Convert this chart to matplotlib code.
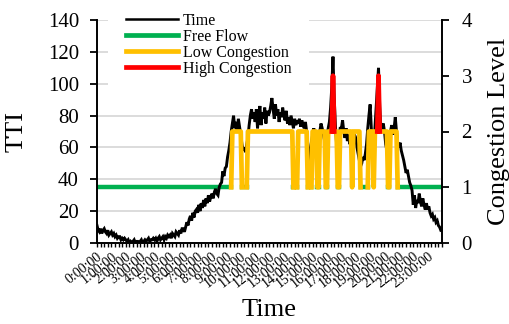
import numpy as np
import matplotlib
matplotlib.use('Agg')
import matplotlib.pyplot as plt
from matplotlib.ticker import FixedLocator, MultipleLocator
from matplotlib.lines import Line2D

plt.rcParams['font.family'] = ['Liberation Serif', 'DejaVu Serif']

hour_labels = ['0:00:00', '1:00:00', '2:00:00', '3:00:00', '4:00:00', '5:00:00',
               '6:00:00', '7:00:00', '8:00:00', '9:00:00', '10:00:00', '11:00:00',
               '12:00:00', '13:00:00', '14:00:00', '15:00:00', '16:00:00', '17:00:00',
               '18:00:00', '19:00:00', '20:00:00', '21:00:00', '22:00:00', '23:00:00']

# TTI every 5 minutes (12 values per hour)
tti = [
    11, 8, 7, 9, 6, 8, 9, 7, 6, 8, 5, 6,
    7, 5, 6, 4, 5, 3, 4, 4, 2, 3, 2, 3,
    2, 1, 2, 0, 1, 0, 1, 2, 0, 1, 1, 0,
    1, 2, 0, 1, 2, 1, 2, 3, 1, 2, 2, 3,
    2, 3, 1, 3, 4, 2, 3, 4, 2, 4, 3, 5,
    4, 5, 3, 6, 5, 4, 7, 6, 5, 8, 6, 9,
    9, 7, 10, 13, 11, 15, 17, 14, 19, 16, 20, 21,
    19, 24, 20, 25, 22, 27, 23, 28, 25, 30, 26, 29,
    31, 28, 32, 34, 31, 30, 35, 37, 38, 45, 42, 47,
    48, 54, 58, 63, 70, 75, 80, 72, 76, 70, 78, 73,
    68, 62, 58, 60, 57, 62, 66, 74, 80, 84, 78, 82,
    76, 84, 72, 80, 86, 74, 82, 78, 85, 75, 83, 80,
    82, 86, 91, 84, 78, 87, 80, 84, 76, 82, 79, 85,
    80, 77, 83, 75, 79, 74, 80, 76, 72, 78, 74, 77,
    75, 78, 73, 77, 74, 72, 76, 70, 62, 50, 55, 63,
    68, 72, 66, 58, 55, 62, 70, 75, 72, 68, 64, 62,
    65, 72, 76, 85, 98, 117, 92, 74, 62, 60, 64, 72,
    72, 77, 70, 66, 72, 64, 68, 62, 66, 58, 62, 68,
    66, 60, 56, 52, 48, 50, 54, 52, 56, 62, 72, 80,
    87, 72, 55, 62, 72, 85, 98, 110, 86, 72, 70, 75,
    70, 62, 58, 57, 64, 70, 74, 68, 72, 79, 70, 63,
    60, 63, 58, 55, 52, 48, 44, 46, 42, 38, 36, 33,
    24, 30, 22, 27, 25, 31, 26, 23, 28, 24, 21, 25,
    21, 23, 19, 17, 18, 15, 16, 13, 14, 11, 10, 8,
]

# congestion level every 5 minutes (1 free flow, 2 low, 3 high)
congestion = [
    1, 1, 1, 1, 1, 1, 1, 1, 1, 1, 1, 1,
    1, 1, 1, 1, 1, 1, 1, 1, 1, 1, 1, 1,
    1, 1, 1, 1, 1, 1, 1, 1, 1, 1, 1, 1,
    1, 1, 1, 1, 1, 1, 1, 1, 1, 1, 1, 1,
    1, 1, 1, 1, 1, 1, 1, 1, 1, 1, 1, 1,
    1, 1, 1, 1, 1, 1, 1, 1, 1, 1, 1, 1,
    1, 1, 1, 1, 1, 1, 1, 1, 1, 1, 1, 1,
    1, 1, 1, 1, 1, 1, 1, 1, 1, 1, 1, 1,
    1, 1, 1, 1, 1, 1, 1, 1, 1, 1, 1, 1,
    1, 1, 1, 1, 1, 2, 2, 2, 2, 2, 2, 2,
    2, 1, 1, 1, 1, 1, 2, 2, 2, 2, 2, 2,
    2, 2, 2, 2, 2, 2, 2, 2, 2, 2, 2, 2,
    2, 2, 2, 2, 2, 2, 2, 2, 2, 2, 2, 2,
    2, 2, 2, 2, 2, 2, 2, 2, 1, 1, 1, 1,
    2, 2, 2, 2, 2, 2, 2, 2, 1, 1, 1, 1,
    2, 2, 2, 2, 1, 1, 2, 2, 2, 2, 2, 1,
    1, 2, 2, 2, 2, 3, 2, 2, 2, 1, 1, 2,
    2, 2, 2, 2, 2, 2, 2, 2, 2, 1, 2, 2,
    2, 2, 2, 2, 1, 1, 1, 1, 1, 1, 1, 2,
    2, 2, 2, 1, 2, 2, 2, 3, 2, 2, 2, 2,
    2, 2, 2, 1, 1, 2, 2, 2, 2, 2, 2, 1,
    1, 1, 1, 1, 1, 1, 1, 1, 1, 1, 1, 1,
    1, 1, 1, 1, 1, 1, 1, 1, 1, 1, 1, 1,
    1, 1, 1, 1, 1, 1, 1, 1, 1, 1, 1, 1,
]

series_names = ['Time', 'Free Flow', 'Low Congestion', 'High Congestion']
colors = ['#000000', '#00b050', '#ffc000', '#ff0000']

x = np.arange(len(tti))
lvl = np.array(congestion, dtype=float)
prev = np.r_[lvl[0], lvl[:-1]]
nxt = np.r_[lvl[1:], lvl[-1]]
free = np.where(lvl == 1, 1.0, np.nan)
low = np.where((lvl >= 2) | (prev >= 2) | (nxt >= 2), np.minimum(lvl, 2), np.nan)
high = np.where((lvl == 3) | (prev == 3) | (nxt == 3), lvl, np.nan)

fig = plt.figure(figsize=(5.1, 3.24), dpi=100)
ax = fig.add_axes([97/510, 1-243/324, 345/510, 223/324])
ax2 = ax.twinx()

ax.set_xlim(0, len(tti))
ax.set_ylim(0, 140)
ax2.set_ylim(0, 4)

ax.plot(x, tti, color=colors[0], lw=2.1, zorder=3, solid_joinstyle='miter')
ax.plot(x, free, color=colors[1], lw=3.2, zorder=2, transform=ax2.transData)
ax.plot(x, low, color=colors[2], lw=3.4, zorder=4, transform=ax2.transData)
ax.plot(x, high, color=colors[3], lw=3.4, zorder=5, transform=ax2.transData)

ax.yaxis.set_major_locator(MultipleLocator(20))
ax2.yaxis.set_major_locator(MultipleLocator(1))
ax.yaxis.grid(True, color='#d9d9d9', lw=1.3)
ax.set_axisbelow(True)

ax.xaxis.set_major_locator(FixedLocator(np.arange(0, len(tti), 12)))
ax.xaxis.set_minor_locator(MultipleLocator(3))
ax.set_xticklabels(hour_labels, rotation=38, ha='right', va='top',
                   rotation_mode='anchor', fontsize=10)

for a in (ax, ax2):
    a.spines['top'].set_visible(False)
    for s in a.spines.values():
        s.set_linewidth(1.4)
ax.spines['right'].set_visible(False)
ax2.spines['left'].set_visible(False)
ax2.spines['bottom'].set_visible(False)

ax.tick_params(axis='y', direction='out', length=5, width=1.3, labelsize=15, pad=8)
ax2.tick_params(axis='y', direction='out', length=5, width=1.3, labelsize=15, pad=9)
ax.tick_params(axis='x', which='both', direction='out', length=3, width=1.0, pad=2)

ax.set_ylabel('TTI', fontsize=19)
ax.yaxis.set_label_coords((28-97)/345, 0.5)
ax2.set_ylabel('Congestion Level', fontsize=19)
ax2.yaxis.set_label_coords((488-97)/345, 0.5)
ax.set_xlabel('Time', fontsize=19)
ax.xaxis.set_label_coords(0.5, (243-299)/223)

handles = [Line2D([], [], color=colors[0], lw=1.8)] + \
          [Line2D([], [], color=c, lw=3.4) for c in colors[1:]]
leg = ax.legend(handles, series_names, loc='upper left',
                bbox_to_anchor=(108/510, 1+5/324), bbox_transform=fig.transFigure,
                frameon=True, facecolor='white', edgecolor='none', framealpha=1,
                fontsize=11.5, handlelength=3.3, handletextpad=0.3,
                labelspacing=0.0, borderpad=1.1, borderaxespad=0)
leg.set_zorder(10)

fig.savefig('out.png', dpi=100)
